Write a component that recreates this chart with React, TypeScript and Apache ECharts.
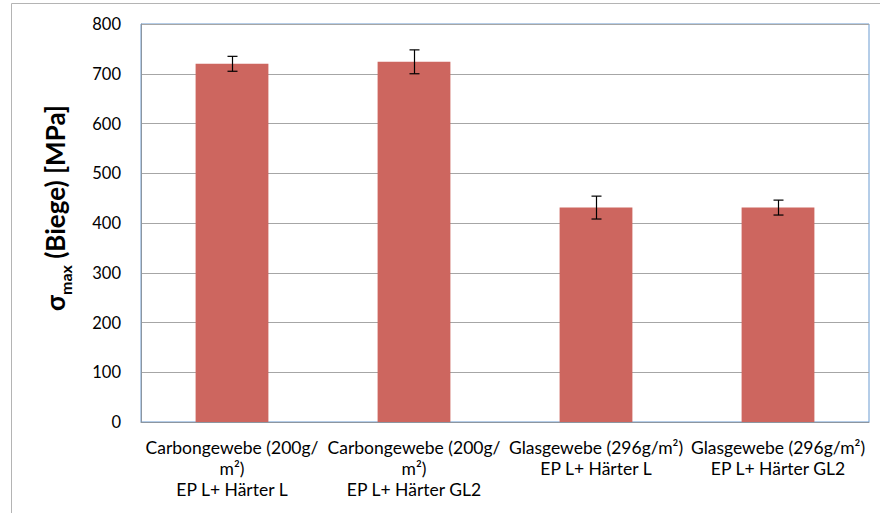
import React, { useEffect, useRef } from "react";
import * as echarts from "echarts";

const categories = [
  "Carbongewebe (200g/\nm²)\nEP L+ Härter L",
  "Carbongewebe (200g/\nm²)\nEP L+ Härter GL2",
  "Glasgewebe (296g/m²)\nEP L+ Härter L",
  "Glasgewebe (296g/m²)\nEP L+ Härter GL2",
];
const values = [720, 724, 431, 431];
const errors = [15, 24, 23, 15];
const yTicks = [0, 100, 200, 300, 400, 500, 600, 700, 800];

export default function App() {
  const ref = useRef<HTMLDivElement>(null);
  useEffect(() => {
    if (!ref.current) return;
    const chart = echarts.init(ref.current, undefined, { renderer: "svg" });
    const font = "Lato, 'Noto Sans', sans-serif";
    chart.setOption({
      animation: false,
      backgroundColor: "#ffffff",
      grid: {
        left: 141,
        top: 24,
        right: 11,
        bottom: 91,
        show: true,
        borderColor: "#6B9BD1",
        borderWidth: 1,
        backgroundColor: "transparent",
      },
      xAxis: {
        type: "category",
        data: categories,
        axisLine: { show: true, lineStyle: { color: "#8C96A0", width: 1 } },
        axisTick: { show: false },
        axisLabel: {
          color: "#000000",
          fontFamily: font,
          fontSize: 17.5,
          lineHeight: 21,
          margin: 15,
          interval: 0,
        },
      },
      yAxis: {
        type: "value",
        min: yTicks[0],
        max: yTicks[yTicks.length - 1],
        interval: 100,
        axisLine: { show: true, lineStyle: { color: "#8C96A0", width: 1 } },
        axisTick: { show: false },
        splitLine: { show: true, lineStyle: { color: "#A6A6A6", width: 1 } },
        axisLabel: {
          color: "#000000",
          fontFamily: font,
          fontSize: 16.5,
          margin: 20,
        },
      },
      graphic: [
        {
          type: "rect",
          silent: true,
          shape: { x: 11.5, y: 3.5, width: 900, height: 540 },
          style: { fill: "none", stroke: "#B4B4B4", lineWidth: 1 },
          z: -1,
        },
        {
          type: "text",
          x: 55,
          y: 208,
          rotation: Math.PI / 2,
          style: {
            text: "{s|σ}{m|max}{s| (Biege) [MPa]}",
            fontFamily: font,
            align: "center",
            verticalAlign: "middle",
            fill: "#000000",
            rich: {
              s: { fontSize: 26, fontWeight: "bold", fontFamily: font, lineHeight: 36, verticalAlign: "middle" },
              m: { fontSize: 16, fontWeight: "bold", fontFamily: font, lineHeight: 36, verticalAlign: "bottom", padding: [11, 0, 0, 0] },
            },
          },
        },
      ],
      series: [
        {
          type: "bar",
          data: values,
          barWidth: "40%",
          itemStyle: { color: "#CD665F" },
          silent: true,
        },
        {
          type: "custom",
          silent: true,
          data: values.map((v, i) => [i, v - errors[i], v + errors[i]]),
          renderItem: (params: any, api: any) => {
            const x = api.value(0);
            const lo = api.coord([x, api.value(1)]);
            const hi = api.coord([x, api.value(2)]);
            const cx = Math.round(lo[0]) + 0.5;
            const half = 5;
            const style = { stroke: "#000000", lineWidth: 1.2 };
            return {
              type: "group",
              children: [
                { type: "line", shape: { x1: cx, y1: hi[1], x2: cx, y2: lo[1] }, style },
                { type: "line", shape: { x1: cx - half, y1: hi[1], x2: cx + half, y2: hi[1] }, style },
                { type: "line", shape: { x1: cx - half, y1: lo[1], x2: cx + half, y2: lo[1] }, style },
              ],
            };
          },
          z: 10,
        },
      ],
    });
    return () => chart.dispose();
  }, []);
  return (
    <div
      ref={ref}
      style={{ position: "absolute", left: 0, top: 0, width: 880, height: 513 }}
    />
  );
}
